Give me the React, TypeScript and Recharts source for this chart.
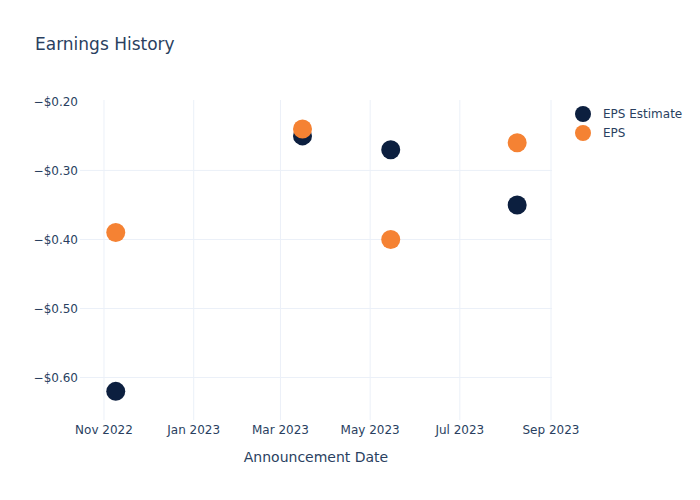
import React from 'react';
import { ScatterChart, Scatter, XAxis, YAxis, CartesianGrid, Legend } from 'recharts';

const announcementDates = ['2022-11-09', '2023-03-16', '2023-05-15', '2023-08-09'];
const epsEstimate = [-0.62, -0.25, -0.27, -0.35];
const epsActual = [-0.39, -0.24, -0.40, -0.26];
const xTickDates = ['2022-11-01', '2023-01-01', '2023-03-01', '2023-05-01', '2023-07-01', '2023-09-01'];
const yTicks = [-0.6, -0.5, -0.4, -0.3, -0.2];
const yGridTicks = [-0.6, -0.5, -0.4, -0.3];
const monthNames = ['Jan', 'Feb', 'Mar', 'Apr', 'May', 'Jun', 'Jul', 'Aug', 'Sep', 'Oct', 'Nov', 'Dec'];

const FONT = '"DejaVu Sans", Verdana, sans-serif';
const TEXT = '#2a3f5f';
const NAVY = '#0c1f3f';
const ORANGE = '#f58233';
const DAY = 86400000;

const toTs = (d: string) => new Date(d + 'T00:00:00Z').getTime();

const estimateData = announcementDates.map((d, i) => ({ x: toTs(d), y: epsEstimate[i] }));
const epsData = announcementDates.map((d, i) => ({ x: toTs(d), y: epsActual[i] }));
const xTicks = xTickDates.map(toTs);
const xDomain = [xTicks[0] - 16.32 * DAY, xTicks[0] + 304.68 * DAY];
const yDomain = [-0.6615, -0.198];

const fmtX = (t: number) => {
  const d = new Date(t);
  return `${monthNames[d.getUTCMonth()]} ${d.getUTCFullYear()}`;
};
const fmtY = (v: number) => `${v < 0 ? '\u2212' : ''}$${Math.abs(v).toFixed(2)}`;

const series = [
  { name: 'EPS Estimate', color: NAVY },
  { name: 'EPS', color: ORANGE },
];

const dot = (color: string) => (props: any) => (
  <circle cx={props.cx} cy={props.cy} r={9.5} fill={color} />
);

const scaleOf = (axis: any) => {
  const s = axis && axis.scale;
  if (!s) return null;
  if (typeof s === 'function') return s;
  if (typeof s.map === 'function') return (v: number) => s.map(v);
  return null;
};

const vGen = (props: any) => {
  const s = scaleOf(props.xAxis);
  return s ? xTicks.map((t) => s(t)) : [];
};
const hGen = (props: any) => {
  const s = scaleOf(props.yAxis);
  return s ? yGridTicks.map((t) => s(t)) : [];
};

const LegendContent = () => (
  <div style={{ fontFamily: FONT, fontSize: 12, color: TEXT }}>
    {series.map((s) => (
      <div key={s.name} style={{ display: 'flex', alignItems: 'center', height: 19 }}>
        <svg width={18} height={18} style={{ marginRight: 11 }}>
          <circle cx={9} cy={9} r={8} fill={s.color} />
        </svg>
        <span>{s.name}</span>
      </div>
    ))}
  </div>
);

export default function App() {
  return (
    <div style={{ position: 'absolute', left: 0, top: 0, width: 700, height: 500, background: '#fff' }}>
      <div
        style={{
          position: 'absolute',
          left: 35,
          top: 33,
          fontFamily: FONT,
          fontSize: 17,
          lineHeight: '22px',
          color: TEXT,
        }}
      >
        Earnings History
      </div>
      <ScatterChart width={700} height={500} margin={{ top: 100, right: 148, bottom: 0, left: 0 }}>
        <CartesianGrid
          stroke="#ebf0f8"
          strokeWidth={1}
          verticalCoordinatesGenerator={vGen}
          horizontalCoordinatesGenerator={hGen}
        />
        <XAxis
          type="number"
          dataKey="x"
          domain={xDomain}
          ticks={xTicks}
          tickFormatter={fmtX}
          allowDataOverflow
          axisLine={false}
          tickLine={false}
          tickSize={0}
          tickMargin={5}
          height={80}
          tick={{ fill: TEXT, fontSize: 12, fontFamily: FONT }}
          label={{
            value: 'Announcement Date',
            position: 'insideBottom',
            offset: 38,
            fill: TEXT,
            fontSize: 14,
            fontFamily: FONT,
          }}
        />
        <YAxis
          type="number"
          dataKey="y"
          domain={yDomain}
          ticks={yTicks}
          tickFormatter={fmtY}
          allowDataOverflow
          axisLine={false}
          tickLine={false}
          tickSize={0}
          tickMargin={2}
          width={80}
          tick={{ fill: TEXT, fontSize: 12, fontFamily: FONT }}
        />
        <Legend
          layout="vertical"
          align="center"
          verticalAlign="middle"
          content={<LegendContent />}
          wrapperStyle={{ left: 574, top: 104.5, width: 126 }}
        />
        <Scatter name="EPS Estimate" data={estimateData} fill={NAVY} shape={dot(NAVY)} isAnimationActive={false} />
        <Scatter name="EPS" data={epsData} fill={ORANGE} shape={dot(ORANGE)} isAnimationActive={false} />
      </ScatterChart>
    </div>
  );
}
